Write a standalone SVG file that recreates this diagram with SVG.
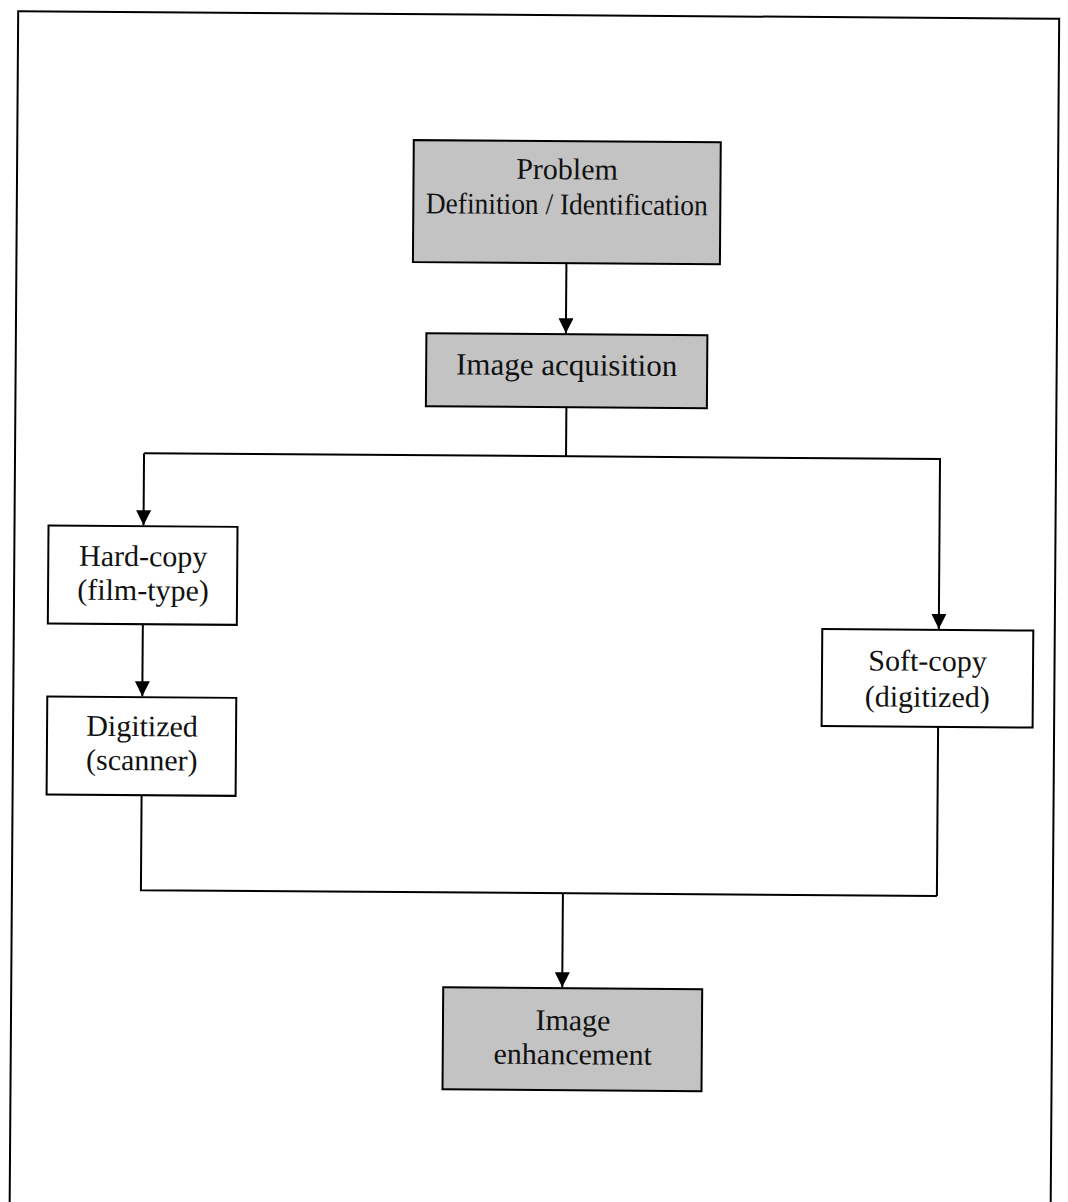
<svg xmlns="http://www.w3.org/2000/svg" width="1068" height="1202" viewBox="0 0 1068 1202">
<style>
.frame{fill:none;stroke:#000;stroke-width:2}
.box{stroke:#000;stroke-width:2}
.shaded{fill:#c3c3c3}
.plain{fill:#fff}
.lbl{font-family:"Liberation Serif","Times New Roman",serif;font-size:30px;fill:#111;text-anchor:middle}
.conn{fill:none;stroke:#000;stroke-width:2}
</style>
<defs>
<marker id="arr" markerUnits="userSpaceOnUse" markerWidth="16" markerHeight="17" refX="15" refY="7.5" orient="auto">
<path d="M0,0 L15,7.5 L0,15 Z" fill="#000"/>
</marker>
</defs>
<rect width="1068" height="1202" fill="#fff"/>
<g transform="rotate(0.41 534 600)">
<rect class="frame" x="14" y="15" width="1041" height="1260"/>
<g id="connectors">
<path class="conn" d="M564,263 L564,333" marker-end="url(#arr)"/>
<path class="conn" d="M565,407 L565,456"/>
<path class="conn" d="M143,456 L940,456"/>
<path class="conn" d="M143,456 L143,528" marker-end="url(#arr)"/>
<path class="conn" d="M939,456 L939,626" marker-end="url(#arr)"/>
<path class="conn" d="M143,627 L143,699" marker-end="url(#arr)"/>
<path class="conn" d="M143,798 L143,893 L939,893"/>
<path class="conn" d="M939,724 L939,893"/>
<path class="conn" d="M565,893 L565,987" marker-end="url(#arr)"/>
</g>
<g id="problem">
<rect class="box shaded" x="410.5" y="141" width="307" height="122"/>
<text class="lbl" x="564" y="179">Problem</text>
<text class="lbl" x="564" y="214" textLength="282" lengthAdjust="spacingAndGlyphs">Definition / Identification</text>
</g>
<g id="acquisition">
<rect class="box shaded" x="424.5" y="334" width="281" height="73"/>
<text class="lbl" x="565" y="375" style="font-size:31px">Image acquisition</text>
</g>
<g id="hardcopy">
<rect class="box plain" x="48" y="529" width="189" height="98"/>
<text class="lbl" x="143" y="569">Hard-copy</text>
<text class="lbl" x="143" y="603">(film-type)</text>
</g>
<g id="digitized">
<rect class="box plain" x="48" y="700" width="189" height="98"/>
<text class="lbl" x="143" y="739">Digitized</text>
<text class="lbl" x="143" y="773">(scanner)</text>
</g>
<g id="softcopy">
<rect class="box plain" x="822.5" y="627" width="211" height="97"/>
<text class="lbl" x="928" y="668">Soft-copy</text>
<text class="lbl" x="928" y="704">(digitized)</text>
</g>
<g id="enhancement">
<rect class="box shaded" x="446" y="988" width="259" height="102"/>
<text class="lbl" x="576" y="1030">Image</text>
<text class="lbl" x="576" y="1064">enhancement</text>
</g>
</g>
</svg>
